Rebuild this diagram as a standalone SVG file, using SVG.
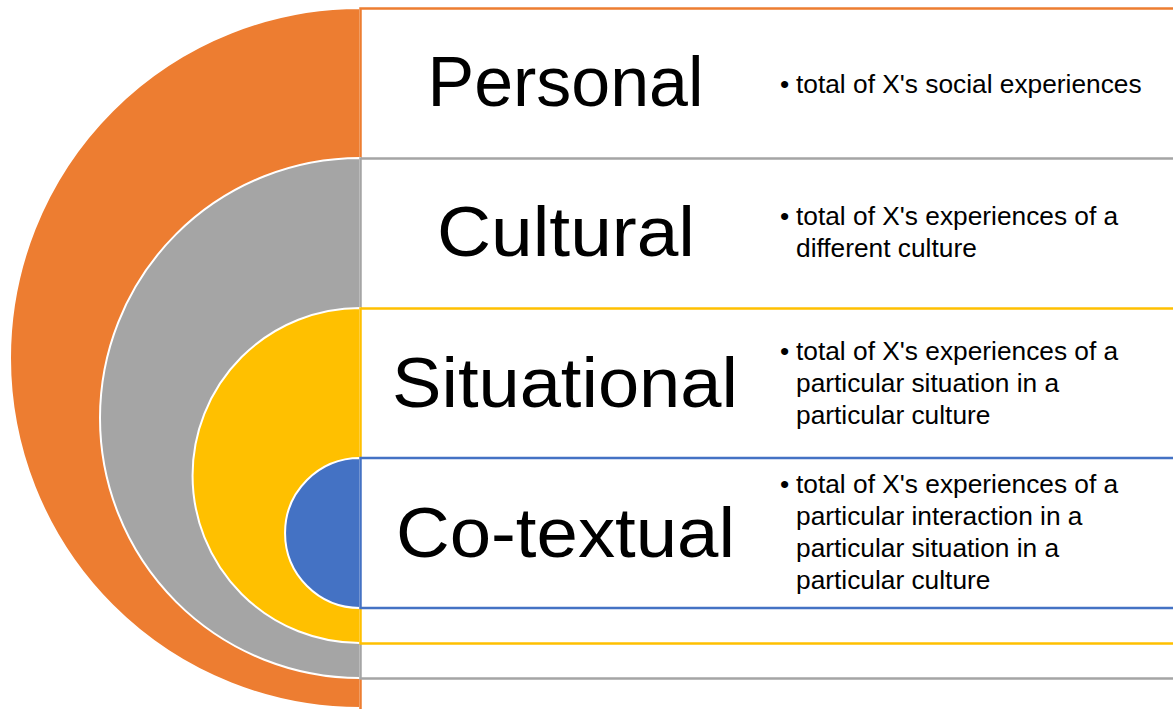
<svg xmlns="http://www.w3.org/2000/svg" width="1173" height="709" viewBox="0 0 1173 709">
<style>
.bg{fill:#ffffff}
.arc{stroke:#ffffff;stroke-width:2}
.box{fill:#ffffff;stroke-width:2.5}
.title{font-family:"Liberation Sans",Arial,sans-serif;font-size:71px;fill:#000000;text-anchor:middle}
.desc{font-family:"Liberation Sans",Arial,sans-serif;font-size:26.3px;fill:#000000}
</style>
<rect class="bg" x="0" y="0" width="1173" height="709"/>
<g id="connectors"></g>
<g id="personal">
<path class="arc" fill="#ED7D31" d="M360,8 A350,350 0 0 0 360,708 Z"/>
<rect class="box" stroke="#ED7D31" x="360.5" y="8.5" width="820" height="710"/>
<text class="title" x="565.5" y="106" textLength="276" lengthAdjust="spacingAndGlyphs">Personal</text>
<text class="desc" x="780" y="93">•</text>
<text class="desc" x="796" y="93">total of X's social experiences</text>
</g>
<g id="cultural">
<path class="arc" fill="#A5A5A5" d="M360,158 A260,260 0 0 0 360,678 Z"/>
<rect class="box" stroke="#A5A5A5" x="360.5" y="158.5" width="820" height="520"/>
<text class="title" x="566" y="256" textLength="258" lengthAdjust="spacingAndGlyphs">Cultural</text>
<text class="desc" x="780" y="225">•</text>
<text class="desc" x="796" y="225">total of X's experiences of a</text>
<text class="desc" x="796" y="257">different culture</text>
</g>
<g id="situational">
<path class="arc" fill="#FFC000" d="M360,308 A167.5,167.5 0 0 0 360,643 Z"/>
<rect class="box" stroke="#FFC000" x="360.5" y="308.5" width="820" height="335"/>
<text class="title" x="565" y="407" textLength="346" lengthAdjust="spacingAndGlyphs">Situational</text>
<text class="desc" x="780" y="360">•</text>
<text class="desc" x="796" y="360">total of X's experiences of a</text>
<text class="desc" x="796" y="392">particular situation in a</text>
<text class="desc" x="796" y="424">particular culture</text>
</g>
<g id="cotextual">
<path class="arc" fill="#4472C4" d="M360,458 A75,75 0 0 0 360,608 Z"/>
<rect class="box" stroke="#4472C4" x="360.5" y="458" width="820" height="150"/>
<text class="title" x="565.5" y="557" textLength="339" lengthAdjust="spacingAndGlyphs">Co-textual</text>
<text class="desc" x="780" y="493">•</text>
<text class="desc" x="796" y="493">total of X's experiences of a</text>
<text class="desc" x="796" y="525">particular interaction in a</text>
<text class="desc" x="796" y="557">particular situation in a</text>
<text class="desc" x="796" y="589">particular culture</text>
</g>
</svg>
